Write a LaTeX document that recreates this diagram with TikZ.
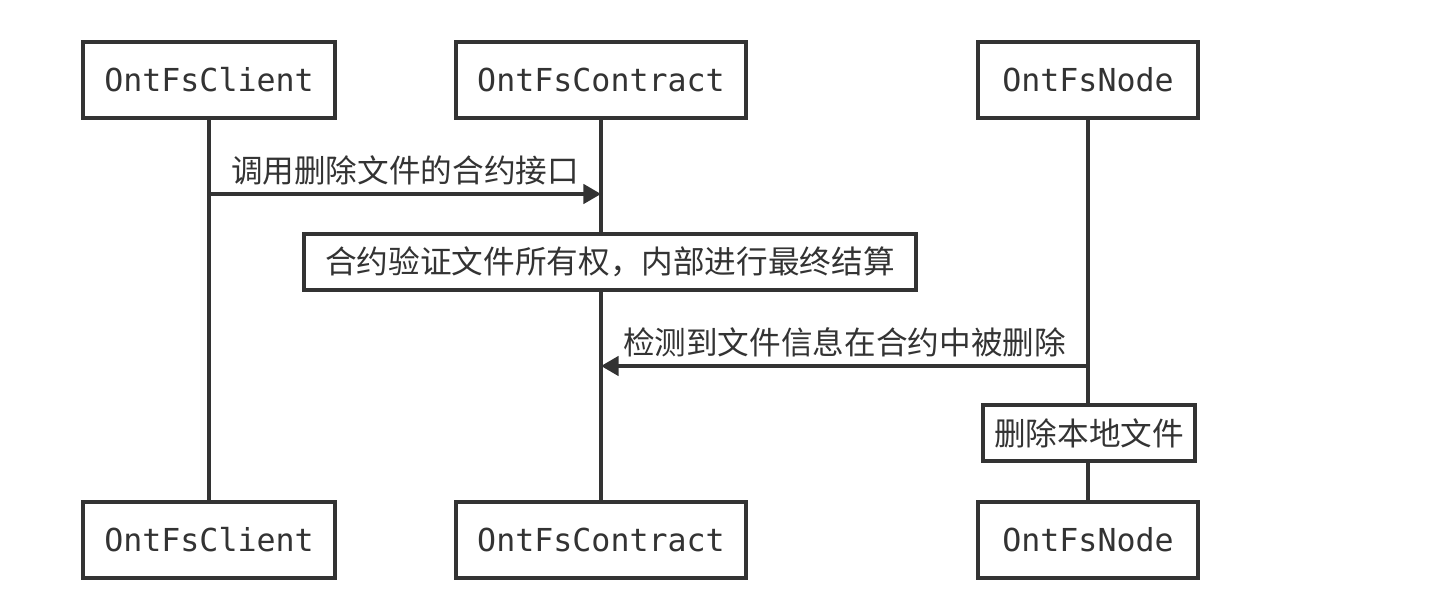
\documentclass[tikz,border=0pt]{standalone}
\usepackage{fontspec}
\setmonofont{DejaVu Sans Mono}
\newfontfamily\cjk{Noto Sans CJK SC}
\usetikzlibrary{positioning,arrows.meta}
\definecolor{ink}{HTML}{333333}

\begin{document}
\begin{tikzpicture}[
    actor/.style={draw=ink, text=ink, line width=2pt, fill=white, minimum height=1.52cm, inner sep=0pt, font=\fontsize{18}{21}\selectfont\ttfamily},
    note/.style={draw=ink, text=ink, line width=2pt, fill=white, minimum height=1.12cm, inner xsep=4pt, inner ysep=0pt, font=\fontsize{18}{21}\selectfont\cjk},
    msg/.style={draw=ink, line width=2pt, -{Triangle[length=10pt,width=11pt]}},
    lifeline/.style={draw=ink, line width=2pt},
    lbl/.style={text=ink, font=\fontsize{18}{21}\selectfont\cjk, inner sep=4pt}
]
    \useasboundingbox (0,0) rectangle (28.96,12.28);

    % participants (top and bottom)
    \node[actor, minimum width=5.04cm] (clienttop) at (4.18,10.68) {OntFsClient};
    \node[actor, minimum width=5.8cm] (contracttop) at (12.02,10.68) {OntFsContract};
    \node[actor, minimum width=4.4cm] (nodetop) at (21.76,10.68) {OntFsNode};
    \node[actor, minimum width=5.04cm] (clientbot) at (4.18,1.48) {OntFsClient};
    \node[actor, minimum width=5.8cm] (contractbot) at (12.02,1.48) {OntFsContract};
    \node[actor, minimum width=4.4cm] (nodebot) at (21.76,1.48) {OntFsNode};

    % lifelines
    \draw[lifeline] (clienttop) -- (clientbot);
    \draw[lifeline] (contracttop) -- (contractbot);
    \draw[lifeline] (nodetop) -- (nodebot);

    % message 1
    \coordinate (m1a) at (4.18,8.4);
    \coordinate (m1b) at (12.02,8.4);
    \draw[msg] (m1a) -- (m1b) node[lbl, midway, above] {调用删除文件的合约接口};

    % note on contract
    \node[note, minimum width=12.24cm] (verify) at (12.2,7.04) {合约验证文件所有权，内部进行最终结算};

    % message 2
    \coordinate (m2a) at (21.76,4.96);
    \coordinate (m2b) at (12.02,4.96);
    \draw[msg] (m2a) -- (m2b) node[lbl, midway, above] {检测到文件信息在合约中被删除};

    % note on node
    \node[note, minimum width=4.24cm] (remove) at (21.78,3.62) {删除本地文件};
\end{tikzpicture}
\end{document}
